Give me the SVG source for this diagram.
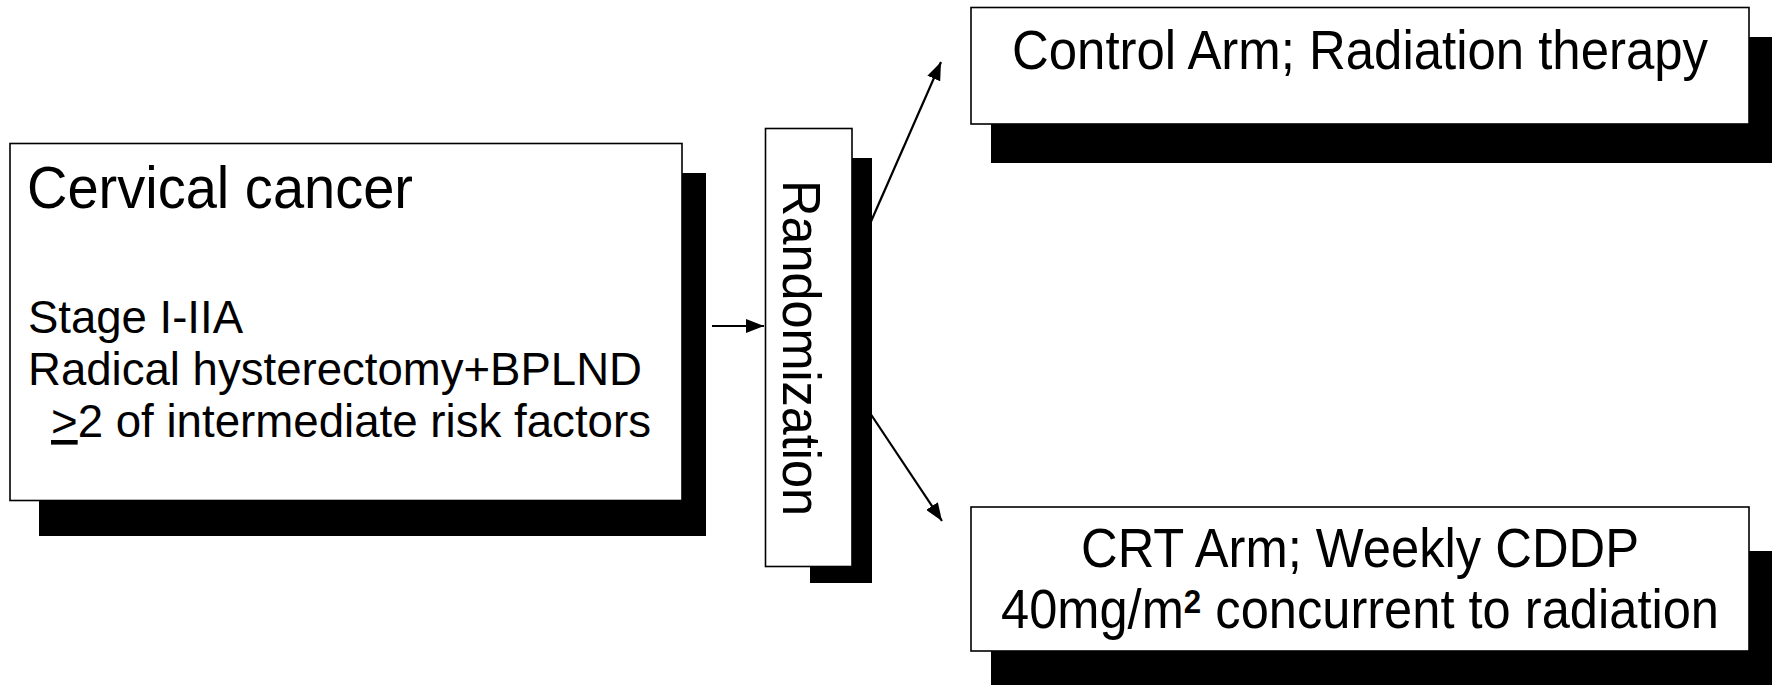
<svg xmlns="http://www.w3.org/2000/svg" width="1774" height="685" viewBox="0 0 1774 685">
<defs>
<style>
.box{fill:#fff;stroke:#000;stroke-width:1.6}
.shadow{fill:#000}
.t{font-family:"Liberation Sans",Arial,sans-serif;fill:#000}
.conn{stroke:#000;stroke-width:2.2;fill:none}
</style>
<marker id="ah" markerUnits="userSpaceOnUse" markerWidth="19" markerHeight="14" refX="18" refY="7" orient="auto">
<path d="M0,0 L18,7 L0,14 Z" fill="#000"/>
</marker>
</defs>
<rect width="1774" height="685" fill="#fff"/>
<g id="connectors">
<line class="conn" x1="712" y1="326" x2="764" y2="326" marker-end="url(#ah)"/>
<line class="conn" x1="862" y1="242" x2="941" y2="62" marker-end="url(#ah)"/>
<line class="conn" x1="862" y1="401" x2="942" y2="521" marker-end="url(#ah)"/>
</g>
<g id="node-cervical">
<rect class="shadow" x="39" y="173" width="667" height="363"/>
<rect class="box" x="10" y="143.5" width="672" height="357"/>
<text class="t" x="27" y="208" font-size="60" textLength="386" lengthAdjust="spacingAndGlyphs">Cervical cancer</text>
<text class="t" x="28" y="333" font-size="46" textLength="215" lengthAdjust="spacingAndGlyphs">Stage I-IIA</text>
<text class="t" x="28" y="385" font-size="46" textLength="614" lengthAdjust="spacingAndGlyphs">Radical hysterectomy+BPLND</text>
<text class="t" x="51" y="437" font-size="46" textLength="600" lengthAdjust="spacingAndGlyphs"><tspan text-decoration="underline">&gt;</tspan>2 of intermediate risk factors</text>
</g>
<g id="node-randomization">
<rect class="shadow" x="810" y="158" width="62" height="425"/>
<rect class="box" x="765.5" y="128.5" width="86.5" height="438"/>
<text class="t" transform="translate(783,348) rotate(90)" text-anchor="middle" font-size="54" textLength="336" lengthAdjust="spacingAndGlyphs">Randomization</text>
</g>
<g id="node-control">
<rect class="shadow" x="991" y="37" width="781" height="126"/>
<rect class="box" x="971" y="7.5" width="778" height="116.5"/>
<text class="t" x="1360" y="69" text-anchor="middle" font-size="55" textLength="696" lengthAdjust="spacingAndGlyphs">Control Arm; Radiation therapy</text>
</g>
<g id="node-crt">
<rect class="shadow" x="991" y="551" width="781" height="134"/>
<rect class="box" x="971" y="507" width="778" height="144"/>
<text class="t" x="1360" y="567" text-anchor="middle" font-size="55" textLength="558" lengthAdjust="spacingAndGlyphs">CRT Arm; Weekly CDDP</text>
<text class="t" x="1360" y="628" text-anchor="middle" font-size="55" textLength="718" lengthAdjust="spacingAndGlyphs">40mg/m<tspan font-size="34" font-weight="bold" dy="-15">2</tspan><tspan dy="15"> concurrent to radiation</tspan></text>
</g>
</svg>
